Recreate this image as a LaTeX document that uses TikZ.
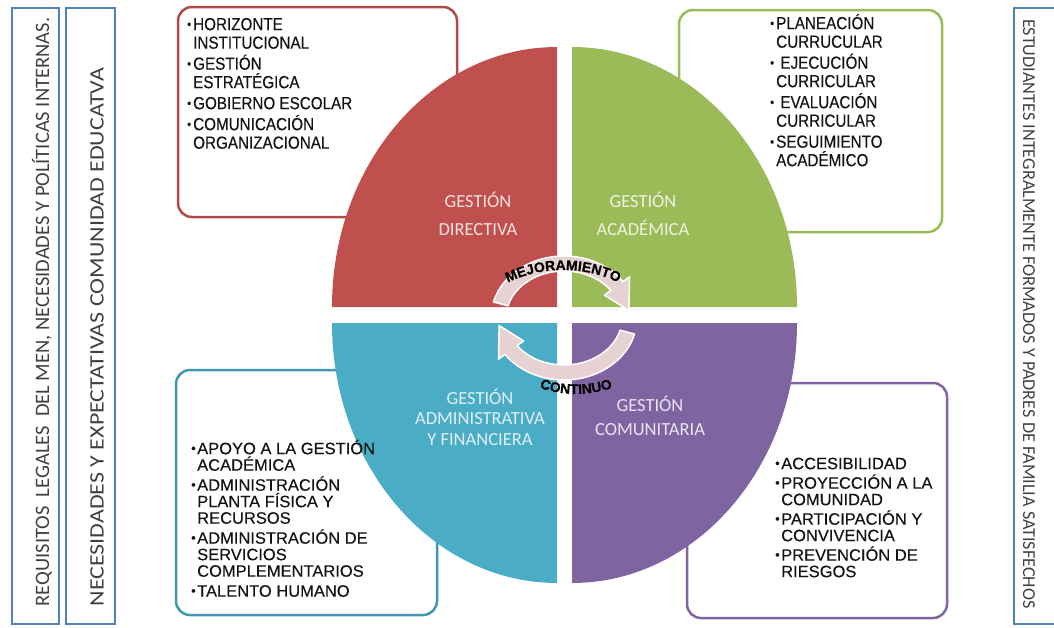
\documentclass[tikz,border=0pt]{standalone}
\usepackage{fontspec}
\setmainfont{Liberation Sans}[FakeBold=0.3]
\newfontfamily\condfont[FakeStretch=0.87,FakeBold=0.3]{Liberation Sans}
\newfontfamily\calfont{Carlito}
\usetikzlibrary{positioning,decorations.text}

\definecolor{dirred}{HTML}{C0504D}
\definecolor{acagreen}{HTML}{9BBB59}
\definecolor{admblue}{HTML}{4BACC6}
\definecolor{compurple}{HTML}{8064A2}
\definecolor{barblue}{HTML}{4F81BD}
\definecolor{cyclefill}{HTML}{E6D2D2}
\definecolor{bartext}{HTML}{404040}

\newcommand{\blt}{\raisebox{1.5pt}{\fontsize{13}{13}\selectfont\textbullet}}
\newcommand{\itm}{\makebox[6pt][l]{\blt}}
\newcommand{\cnt}{\hspace*{6pt}}
\newcommand{\topstrut}{\rule{0pt}{18pt}}

\begin{document}
\begin{tikzpicture}[
  x=1pt, y=-1pt,
  box/.style={rectangle, draw, rounded corners=14pt, line width=2.5pt, fill=white, outer sep=0pt},
  itemlist/.style={align=left, inner sep=0pt, text=black!92},
  toplist/.style={itemlist, font=\condfont\fontsize{17.5}{18.5}\selectfont},
  botlist/.style={itemlist, font=\fontsize{16.5}{16.5}\selectfont},
  quadlabel/.style={align=center, inner sep=0pt, font=\calfont\fontsize{18.5}{24}\selectfont},
  bar/.style={rectangle, draw=barblue, line width=2pt, outer sep=0pt},
  bartxt/.style={inner sep=0pt, text=bartext, font=\calfont\fontsize{20.5}{20.5}\selectfont},
  cyclearrow/.style={fill=cyclefill, draw=white, line width=1.5pt, line join=round},
  cycletxt/.style={decorate, decoration={text along path, text align=center, text={#1}}}
]
\path[use as bounding box] (0,0) rectangle (1054,627);
\clip (0,0) rectangle (1054,627);

% side bars
\node[bar, minimum width=47pt, minimum height=616pt] (reqbar) at (35.5,316) {};
\node[bar, minimum width=49pt, minimum height=616pt] (necbar) at (90.5,316) {};
\node[bar, minimum width=48pt, minimum height=616pt] (estbar) at (1038,316) {};
\node[bartxt, rotate=90] (reqtxt) at (42,312) {REQUISITOS\ \ LEGALES\ \ DEL MEN, NECESIDADES Y POLÍTICAS INTERNAS.};
\node[bartxt, rotate=90] (nectxt) at (97,337) {\scalebox{1.17}[1]{NECESIDADES Y EXPECTATIVAS COMUNIDAD EDUCATVA}};
\node[bartxt, rotate=-90, font=\calfont\fontsize{18.2}{18.2}\selectfont] (esttxt) at (1029,314) {ESTUDIANTES INTEGRALMENTE FORMADOS Y PADRES DE FAMILIA SATISFECHOS};

% boxes behind the circle
\node[box, draw=dirred!92!black, minimum width=279pt, minimum height=210pt] (dirbox) at (317.5,112) {};
\node[box, draw=acagreen, minimum width=263pt, minimum height=222pt] (acabox) at (810.5,121) {};
\node[box, draw=admblue!88!black, minimum width=261pt, minimum height=245pt] (admbox) at (306.5,492.5) {};
\node[box, draw=compurple, minimum width=260pt, minimum height=235pt] (combox) at (817,500.5) {};

% quadrants
\fill[dirred] (557,307) -- ++(-225,0) arc[start angle=180, end angle=270, x radius=225, y radius=260] -- cycle;
\fill[acagreen] (572,307) -- ++(0,-260) arc[start angle=270, end angle=360, x radius=225, y radius=260] -- cycle;
\fill[admblue] (557,323) -- ++(-225,0) arc[start angle=180, end angle=90, x radius=225, y radius=260] -- cycle;
\fill[compurple] (572,323) -- ++(225,0) arc[start angle=0, end angle=90, x radius=225, y radius=260] -- cycle;

\node[quadlabel, text=white!82!dirred, font=\calfont\fontsize{18.5}{28}\selectfont] (dirlbl) at (478,214) {GESTIÓN\\DIRECTIVA};
\node[quadlabel, text=white!82!acagreen, font=\calfont\fontsize{18.5}{28}\selectfont] (acalbl) at (643,214) {GESTIÓN\\ACADÉMICA};
\node[quadlabel, text=white!82!admblue, font=\calfont\fontsize{18.5}{20.5}\selectfont] (admlbl) at (480,417) {GESTIÓN\\ADMINISTRATIVA\\Y FINANCIERA};
\node[quadlabel, text=white!82!compurple] (comlbl) at (650,416) {GESTIÓN\\COMUNITARIA};

% improvement cycle
\begin{scope}[shift={(564,318)}]
\draw[cyclearrow] (-165:73 and 62) arc[start angle=-165, end angle=-36, x radius=73, y radius=62]
  -- (-36:81 and 70) -- (-8:65.5 and 54.5) -- (-36:50 and 39) -- (-36:58 and 47)
  arc[start angle=-36, end angle=-165, x radius=58, y radius=47] -- cycle;
\draw[cyclearrow] (15:73 and 62) arc[start angle=15, end angle=144, x radius=73, y radius=62]
  -- (144:81 and 70) -- (172:65.5 and 54.5) -- (144:50 and 39) -- (144:58 and 47)
  arc[start angle=144, end angle=15, x radius=58, y radius=47] -- cycle;
\path[cycletxt={|\bfseries\fontsize{14}{14}\selectfont|MEJORAMIENTO}]
  (-1,80) ++(-122:128) arc[start angle=-122, end angle=-58, radius=128];
\path[cycletxt={|\bfseries\fontsize{14}{14}\selectfont|CONTINUO}]
  (12,-36) ++(118:112) arc[start angle=118, end angle=62, radius=112];
\end{scope}

% item lists
\node[toplist, below right=5pt and 9pt of dirbox.north west] (dirlist) {\topstrut\itm HORIZONTE\\
\cnt INSTITUCIONAL\\[2.5pt]
\itm GESTIÓN\\
\cnt ESTRATÉGICA\\[2.5pt]
\itm GOBIERNO ESCOLAR\\[2.5pt]
\itm COMUNICACIÓN\\
\cnt ORGANIZACIONAL};

\node[toplist, below right=1pt and 91pt of acabox.north west] (acalist) {\topstrut\itm PLANEACIÓN\\
\cnt CURRUCULAR\\[2.5pt]
\itm\ EJECUCIÓN\\
\cnt CURRICULAR\\[2.5pt]
\itm\ EVALUACIÓN\\
\cnt CURRICULAR\\[2.5pt]
\itm SEGUIMIENTO\\
\cnt ACADÉMICO};

\node[botlist, below right=66pt and 15pt of admbox.north west] (admlist) {\topstrut\itm APOYO A LA GESTIÓN\\
\cnt ACADÉMICA\\[3.5pt]
\itm ADMINISTRACIÓN\\
\cnt PLANTA FÍSICA Y\\
\cnt RECURSOS\\[3.5pt]
\itm ADMINISTRACIÓN DE\\
\cnt SERVICIOS\\
\cnt COMPLEMENTARIOS\\[3.5pt]
\itm TALENTO HUMANO};

\node[botlist, below right=68pt and 88pt of combox.north west] (comlist) {\topstrut\itm ACCESIBILIDAD\\[3pt]
\itm PROYECCIÓN A LA\\
\cnt COMUNIDAD\\[3pt]
\itm PARTICIPACIÓN Y\\
\cnt CONVIVENCIA\\[3pt]
\itm PREVENCIÓN DE\\
\cnt RIESGOS};
\end{tikzpicture}
\end{document}
